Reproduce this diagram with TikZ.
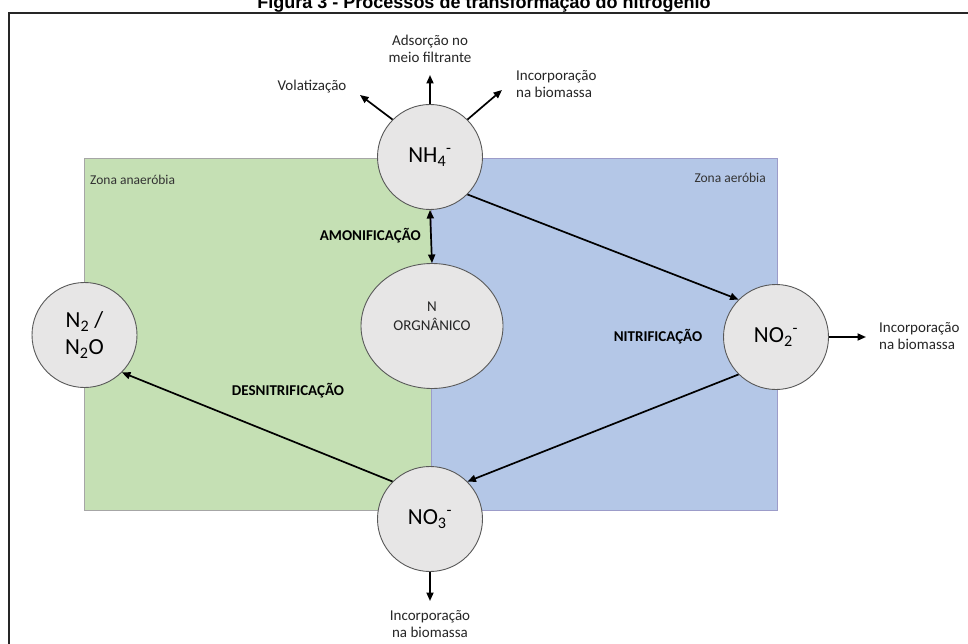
\documentclass[tikz,border=0pt]{standalone}
\usepackage{fontspec}
\setmainfont{Carlito}
\newfontfamily\titlefont{Liberation Sans}
\usetikzlibrary{arrows.meta,shapes.geometric}
\definecolor{zgreen}{HTML}{C5E0B4}
\definecolor{zblue}{HTML}{B4C7E7}
\definecolor{cfill}{HTML}{E7E6E6}
\definecolor{cdraw}{HTML}{595959}
\tikzset{
  circ/.style={circle, fill=cfill, draw=cdraw, line width=0.9pt, minimum size=105pt, inner sep=0pt, align=center, font=\fontsize{23}{27}\selectfont},
  arr/.style={-{Triangle[length=8.5pt,width=7pt]}, line width=1.7pt, black},
  darr/.style={{Triangle[length=8.5pt,width=7pt]}-{Triangle[length=8.5pt,width=7pt]}, line width=1.7pt, black},
  lbl/.style={align=center, inner sep=0pt, font=\fontsize{15}{17.5}\selectfont, text=black!85},
  blbl/.style={inner sep=0pt, font=\fontsize{15}{18}\selectfont\bfseries},
  zlbl/.style={inner sep=0pt, font=\fontsize{13.5}{16}\selectfont, text=black!80},
}
\begin{document}
\begin{tikzpicture}[x=1pt,y=-1pt]
\useasboundingbox (0,0) rectangle (968,644);
\fill[white] (0,0) rectangle (968,644);
% title (cut off at top, as in the reference)
\node[anchor=base, inner sep=0pt, font=\titlefont\bfseries\fontsize{18}{21}\selectfont] (title) at (484,9) {Figura 3 - Processos de transformação do nitrogênio};
% outer frame
\draw[line width=2pt, black!85] (990,13) -- (9,13) -- (9,670);
% zones
\draw[fill=zgreen, draw=gray!70, line width=0.6pt] (84,158) rectangle (431,510);
\draw[fill=zblue, draw=gray!70!blue!60, line width=0.6pt] (431,158) rectangle (777,510);
\node[zlbl, anchor=west] (zan) at (90,180) {Zona anaeróbia};
\node[zlbl, anchor=east] (zae) at (766,178) {Zona aeróbia};
% nodes
\node[circ] (nh4) at (430,157) {NH\textsubscript{4}\textsuperscript{-}};
\node[ellipse, fill=cfill, draw=cdraw, line width=0.9pt, minimum width=142pt, minimum height=125pt] (norg) at (432,326) {};
\node[lbl, font=\fontsize{15}{18.5}\selectfont] (norgtxt) at (432,316) {N\\ORGNÂNICO};
\node[circ] (n2) at (84.5,335) {N\textsubscript{2} /\\N\textsubscript{2}O};
\node[circ] (no2) at (776,337) {NO\textsubscript{2}\textsuperscript{-}};
\node[circ] (no3) at (430,519) {NO\textsubscript{3}\textsuperscript{-}};
% process arrows
\draw[arr] (nh4.-45) -- (no2.135);
\draw[arr] (no2.-135) -- (no3.45);
\draw[arr] (no3.135) -- (n2.-45);
\draw[darr] (nh4.south) -- (norg.north);
% outgoing
\coordinate (cvol) at (360,95);
\coordinate (cads) at (430,75);
\coordinate (cinc) at (502,90);
\coordinate (cinr) at (866,337);
\coordinate (cinb) at (430,601);
\draw[arr] (nh4.135) -- (cvol);
\draw[arr] (nh4.north) -- (cads);
\draw[arr] (nh4.45) -- (cinc);
\draw[arr] (no2.east) -- (cinr);
\draw[arr] (no3.south) -- (cinb);
% labels
\node[lbl] (tvol) at (312,87) {Volatização};
\node[lbl] (tads) at (430,49) {Adsorção no\\meio filtrante};
\node[lbl, anchor=west, align=left] (tinc) at (516,84) {Incorporação\\na biomassa};
\node[lbl, anchor=west, align=left] (tinr) at (879,336) {Incorporação\\na biomassa};
\node[lbl] (tinb) at (430,624) {Incorporação\\na biomassa};
\node[blbl, anchor=east] (tamo) at (421,236) {AMONIFICAÇÃO};
\node[blbl] (tnit) at (658,337) {NITRIFICAÇÃO};
\node[blbl] (tden) at (288,391) {DESNITRIFICAÇÃO};
\end{tikzpicture}
\end{document}
